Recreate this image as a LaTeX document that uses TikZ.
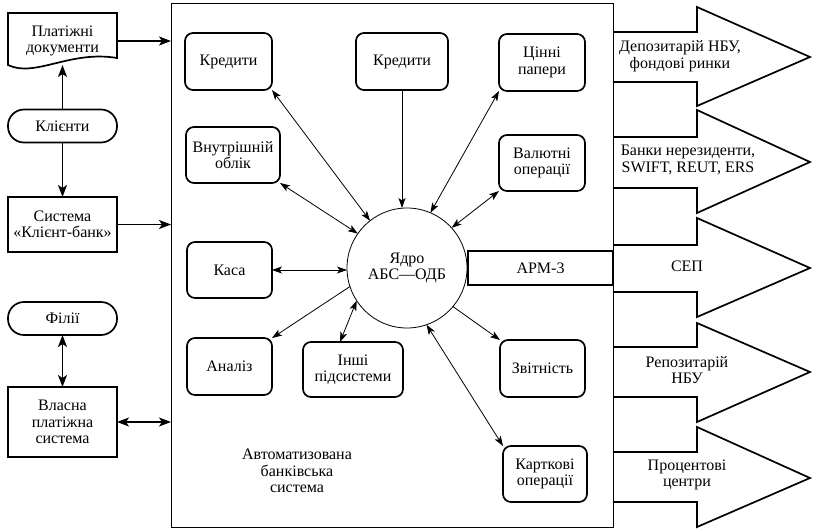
\documentclass[tikz,border=0pt]{standalone}
\usepackage{fontspec}
\setmainfont{Liberation Serif}
\newfontfamily\tnr{Liberation Serif}
\usetikzlibrary{arrows.meta,calc}
\begin{document}
\begin{tikzpicture}[x=1pt,y=-1pt,
  every node/.style={font=\tnr\fontsize{16}{16.5}\selectfont, align=center, inner sep=0pt, outer sep=0pt},
  sub/.style={draw, line width=1.7pt, rounded corners=8pt},
  lbox/.style={draw, line width=1.7pt},
  term/.style={draw, line width=1.7pt, rounded corners=16pt, minimum width=109pt, minimum height=33pt},
  conn/.style={line width=0.8pt, arrows={-Stealth[length=10pt,width=7pt,inset=2.5pt]}},
  dconn/.style={line width=0.8pt, arrows={Stealth[length=10pt,width=7pt,inset=2.5pt]-Stealth[length=10pt,width=7pt,inset=2.5pt]}},
  lconn/.style={line width=1.5pt, arrows={-Stealth[length=12pt,width=9pt,inset=3pt]}},
  ldconn/.style={line width=1.5pt, arrows={Stealth[length=12pt,width=9pt,inset=3pt]-Stealth[length=12pt,width=9pt,inset=3pt]}},
  barrow/.style={draw, line width=1.7pt, line join=miter},
]
\useasboundingbox (0,0) rectangle (814,528);

% main system rectangle
\node[draw, line width=0.8pt, minimum width=442pt, minimum height=524pt] (abs) at (392,265) {};

% left column
\draw[line width=1.7pt] (8,13) -- (117,13) -- (117,58) .. controls (70,50) and (35,78) .. (8,65) -- cycle;
\node[minimum width=109pt, minimum height=52pt] (doc) at (62.5,41) {Платіжні\\документи};
\coordinate (docb) at (62.5,65);
\node[term] (klienty) at (62.5,126) {Клієнти};
\node[lbox, minimum width=109pt, minimum height=55pt] (sys) at (62.5,224.5) {Система\\«Клієнт-банк»};
\node[term] (filii) at (62.5,318.5) {Філії};
\node[lbox, minimum width=109pt, minimum height=70pt] (vlasna) at (62.5,422) {Власна\\платіжна\\система};

\draw[lconn] (doc.east) -- (doc.east -| abs.west);
\draw[lconn] (klienty.north) -- (docb);
\draw[lconn] (klienty.south) -- (sys.north);
\draw[lconn] (sys.east) -- (sys.east -| abs.west);
\draw[ldconn] (filii.south) -- (vlasna.north);
\draw[ldconn] (vlasna.east) -- (vlasna.east -| abs.west);

% subsystems
\node[sub, minimum width=87pt, minimum height=57pt] (kred1) at (228.5,61.5) {Кредити};
\node[sub, minimum width=92pt, minimum height=57pt] (kred2) at (402,61.5) {Кредити};
\node[sub, minimum width=86pt, minimum height=57pt] (cinni) at (542,62.5) {Цінні\\папери};
\node[sub, minimum width=94pt, minimum height=56pt] (vnut) at (233,155) {Внутрішній\\облік};
\node[sub, minimum width=86pt, minimum height=56pt] (val) at (542,163) {Валютні\\операції};
\node[sub, minimum width=85pt, minimum height=56pt] (kasa) at (229.5,270) {Каса};
\node[sub, minimum width=85pt, minimum height=57pt] (analiz) at (229.5,366.5) {Аналіз};
\node[sub, minimum width=100pt, minimum height=55pt] (inshi) at (353,369.5) {Інші\\підсистеми};
\node[sub, minimum width=85pt, minimum height=57pt] (zvit) at (542.5,368.5) {Звітність};
\node[sub, minimum width=84pt, minimum height=56pt] (kart) at (545,474) {Карткові\\операції};
\node[draw, line width=0.8pt, circle, minimum size=120pt] (core) at (407,268) {Ядро\\АБС—ОДБ};
\node[lbox, minimum width=145pt, minimum height=34pt] (arm) at (540.5,268) {АРМ-3};
\node (absname) at (297,471) {Автоматизована\\банківська\\система};

% connectors to the core
\draw[dconn] (kred1.south east) -- (core.128);
\draw[conn] (kred2.south) -- (kred2.south |- core.north);
\draw[dconn] (cinni.south west) -- (core.67);
\draw[dconn] (vnut.south east) -- (core.145);
\draw[dconn] (val.south west) -- (core.42);
\draw[dconn] (kasa.east) -- (kasa.east -| core.west);
\draw[conn] (core.198) -- (analiz.north east);
\draw[dconn] (core.213) -- ([xshift=-13pt]inshi.north);
\draw[conn] (core.-40) -- (zvit.north west);
\draw[dconn] (core.-71) -- (kart.north west);

% external block arrows
\draw[barrow] (613,32) -- (697,32) -- (697,7) -- (810,57) -- (697,106) -- (697,82) -- (613,82);
\draw[barrow] (613,137) -- (697,137) -- (697,110) -- (810,162) -- (697,213) -- (697,188) -- (613,188);
\draw[barrow] (613,245) -- (697,245) -- (697,218) -- (810,268) -- (697,317) -- (697,292) -- (613,292);
\draw[barrow] (613,347) -- (697,347) -- (697,323) -- (810,372) -- (697,422) -- (697,397) -- (613,397);
\draw[barrow] (613,452) -- (697,452) -- (697,427) -- (810,478) -- (697,527) -- (697,502) -- (613,502);
\node (t1) at (680,56) {Депозитарій НБУ,\\фондові ринки};
\node (t2) at (688,160) {Банки нерезиденти,\\SWIFT, REUT, ERS};
\node (t3) at (687,266) {СЕП};
\node (t4) at (687,370) {Репозитарій\\НБУ};
\node (t5) at (687,475) {Процентові\\центри};
\end{tikzpicture}
\end{document}
